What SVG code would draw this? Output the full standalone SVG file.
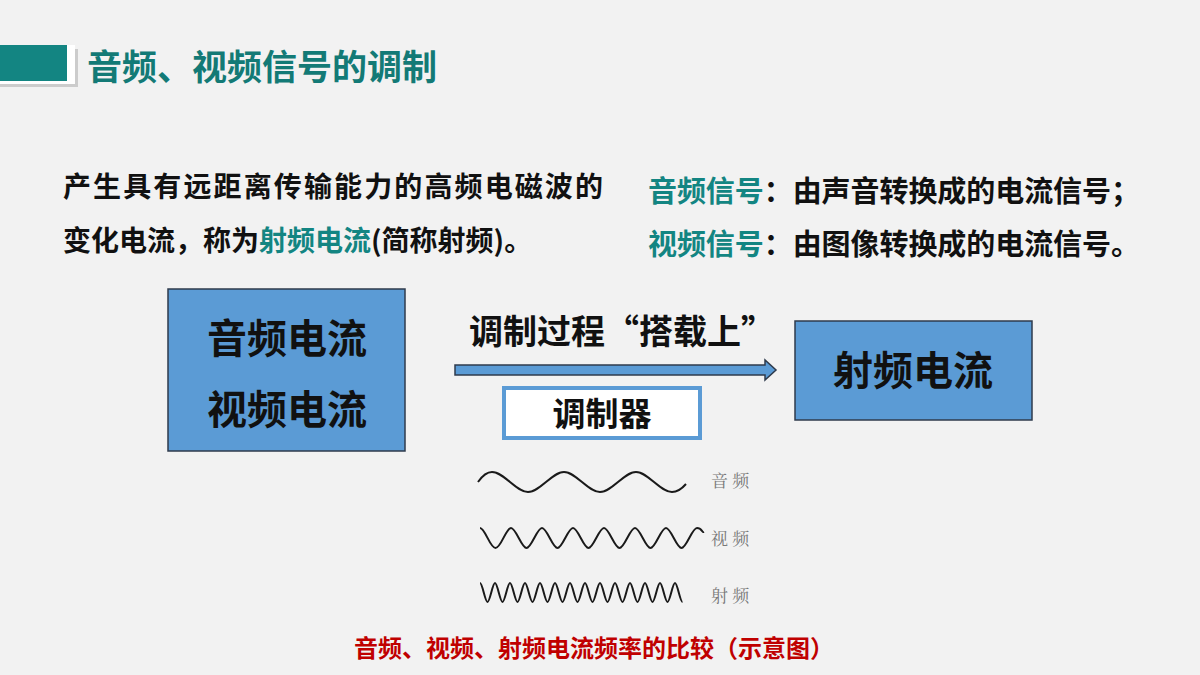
<svg xmlns="http://www.w3.org/2000/svg" width="1200" height="675" viewBox="0 0 1200 675">
<style>
.t{font-family:"Noto Sans CJK SC","Noto Sans",sans-serif;font-weight:bold}
.box{fill:#5b9bd5;stroke:#2f3b4c;stroke-width:1.5}
.w{fill:none;stroke:#1a1a1a;stroke-width:2}
.lb{font-family:"Noto Serif CJK SC","Noto Sans CJK SC",serif;font-size:17px;fill:#777}
</style>
<rect width="1200" height="675" fill="#f2f2f2"/>
<g id="title">
<rect x="0" y="49" width="78" height="38" fill="#ccc"/>
<rect x="0" y="45" width="75" height="39" fill="#fff"/>
<rect x="0" y="45" width="67" height="36" fill="#138582"/>
<text x="87" y="80" class="t" font-size="35" fill="#137a76">音频、视频信号的调制</text>
</g>
<g id="intro">
<text x="63" y="197" class="t" font-size="28" fill="#111" textLength="540">产生具有远距离传输能力的高频电磁波的</text>
<text x="63" y="251" class="t" font-size="28" fill="#111">变化电流，称为<tspan fill="#138582">射频电流</tspan>(简称射频)。</text>
<text x="648" y="202" class="t" font-size="29" fill="#111" textLength="492"><tspan fill="#138582">音频信号</tspan>：由声音转换成的电流信号；</text>
<text x="648" y="255" class="t" font-size="29" fill="#111" textLength="492"><tspan fill="#138582">视频信号</tspan>：由图像转换成的电流信号。</text>
</g>
<g id="src">
<rect x="168" y="289" width="237" height="162" class="box"/>
<text x="287" y="353" class="t" font-size="40" fill="#111" text-anchor="middle">音频电流</text>
<text x="287" y="424" class="t" font-size="40" fill="#111" text-anchor="middle">视频电流</text>
</g>
<g id="rf">
<rect x="795" y="321" width="237" height="99" class="box"/>
<text x="913" y="385" class="t" font-size="40" fill="#111" text-anchor="middle">射频电流</text>
</g>
<g id="connectors">
<path d="M455 365 H765 V360 L776 370 L765 380 V375 H455 Z" fill="#5b9bd5" stroke="#2f3b4c" stroke-width="1.5"/>
<text x="622" y="344" class="t" font-size="34" fill="#111" text-anchor="middle">调制过程“搭载上”</text>
</g>
<g id="mod">
<rect x="504" y="388" width="196" height="50" fill="#fff" stroke="#5b9bd5" stroke-width="4"/>
<text x="602" y="426" class="t" font-size="33" fill="#111" text-anchor="middle">调制器</text>
</g>
<g id="waves">
<path class="w" d="M478 482 q7 -10 14 -10 c12 0 24 20 36 20 s24 -20 36 -20 s24 20 36 20 s24 -20 36 -20 s24 20 36 20 q7 0 14 -8"/>
<path class="w" d="M480 528 c5 0 10 20 15.5 20 s10.5 -20 15.5 -20 s10.5 20 15.5 20 s10.5 -20 15.5 -20 s10.5 20 15.5 20 s10.5 -20 15.5 -20 s10.5 20 15.5 20 s10.5 -20 15.5 -20 s10.5 20 15.5 20 s10.5 -20 15.5 -20 s10.5 20 15.5 20 s10.5 -20 15.5 -20 s10.5 20 15.5 20 s10.5 -20 15.5 -20 s5 5 7 4"/>
<path class="w" d="M480 583 c2.5 0 5 19 7.5 19 s5 -19 7.5 -19 s5 19 7.5 19 s5 -19 7.5 -19 s5 19 7.5 19 s5 -19 7.5 -19 s5 19 7.5 19 s5 -19 7.5 -19 s5 19 7.5 19 s5 -19 7.5 -19 s5 19 7.5 19 s5 -19 7.5 -19 s5 19 7.5 19 s5 -19 7.5 -19 s5 19 7.5 19 s5 -19 7.5 -19 s5 19 7.5 19 s5 -19 7.5 -19 s5 19 7.5 19 s5 -19 7.5 -19 s5 19 7.5 19 s5 -19 7.5 -19 s5 19 7.5 19 s5 -19 7.5 -19 s5 19 7.5 19 s5 -19 7.5 -19 s5 19 7.5 19"/>
<text x="711" y="487" class="lb">音 频</text>
<text x="711" y="545" class="lb">视 频</text>
<text x="711" y="602" class="lb">射 频</text>
</g>
<text x="594" y="657" class="t" font-size="24" fill="#c00000" text-anchor="middle">音频、视频、射频电流频率的比较（示意图）</text>
</svg>
